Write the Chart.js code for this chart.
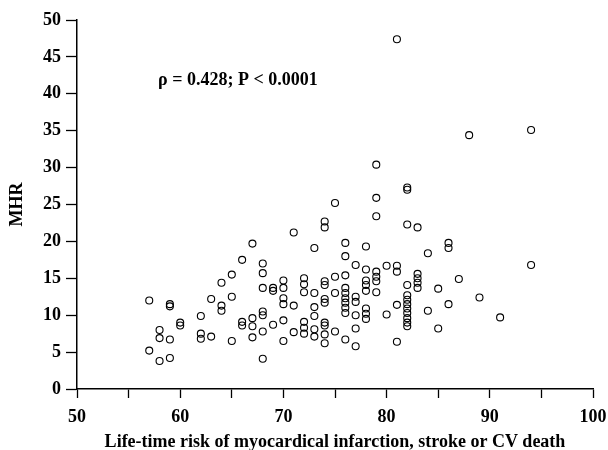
<!DOCTYPE html>
<html>
<head>
<meta charset="utf-8">
<script src="https://cdn.jsdelivr.net/npm/chart.js@4/dist/chart.umd.min.js"></script>
<style>
    html, body { margin: 0; padding: 0; background: #fff; }
    #wrap { width: 608px; height: 450px; }
</style>
</head>
<body>
<div id="wrap"><canvas id="mhrChart" width="608" height="450"></canvas></div>
<script>
// Data: one list of MHR values per life-time risk column
const riskValues = [57, 58, 59, 60, 62, 63, 64, 65, 66, 67, 68, 69, 70, 71, 72, 73, 74, 75, 76, 77, 78, 79, 80, 81, 82, 83, 84, 85, 86, 87, 88, 89, 91, 94];
const mhrByRisk = [
    [12.0, 5.2],
    [8.0, 6.9, 3.8],
    [11.5, 11.2, 6.7, 4.2],
    [9.0, 8.6],
    [9.9, 7.5, 6.8],
    [12.2, 7.1],
    [14.4, 11.3, 10.6],
    [15.5, 12.5, 6.5],
    [17.5, 9.1, 8.6],
    [19.7, 9.6, 8.5, 7.0],
    [17.0, 15.7, 13.7, 10.5, 10.0, 7.8, 4.1],
    [13.7, 13.3, 8.7],
    [14.7, 13.7, 12.3, 11.5, 9.3, 6.5],
    [21.2, 11.3, 7.7],
    [15.0, 14.2, 13.1, 9.1, 8.3, 7.5],
    [19.1, 13.0, 11.1, 9.9, 8.1, 7.1],
    [22.7, 21.9, 14.6, 14.1, 12.2, 11.7, 9.0, 8.6, 7.4, 6.2],
    [25.2, 15.2, 13.0, 7.8],
    [19.8, 18.0, 15.4, 13.7, 13.0, 12.3, 11.7, 11.0, 10.3, 6.7],
    [16.8, 12.5, 11.8, 10.0, 8.2, 5.8],
    [19.3, 16.2, 14.7, 14.1, 13.3, 10.9, 10.2, 9.5],
    [30.4, 25.9, 23.4, 15.9, 15.2, 14.6, 13.1],
    [16.7, 10.1],
    [47.4, 16.7, 15.9, 11.4, 6.4],
    [27.3, 27.0, 22.3, 14.1, 12.7, 12.1, 11.5, 10.9, 10.3, 9.6, 9.0, 8.5],
    [21.9, 15.6, 15.0, 14.4, 13.7],
    [18.4, 10.6],
    [13.6, 8.2],
    [19.8, 19.1, 11.5],
    [14.9],
    [34.4],
    [12.4],
    [9.7],
    [35.1, 16.8]
];
const xTicks = [50, 60, 70, 80, 90, 100];
const yTicks = [0, 5, 10, 15, 20, 25, 30, 35, 40, 45, 50];
const statsLabel = 'ρ = 0.428; P < 0.0001';

const points = [];
riskValues.forEach((risk, i) => {
    mhrByRisk[i].forEach(v => points.push({ x: risk, y: v }));
});

const serif = '"Liberation Serif", "Times New Roman", serif';

// statistic text in the upper left of the plot
const statsText = {
    id: 'statsText',
    afterDraw(chart) {
        const ctx = chart.ctx;
        ctx.save();
        ctx.font = 'bold 18px ' + serif;
        ctx.fillStyle = '#000';
        ctx.textBaseline = 'middle';
        ctx.fillText(statsLabel, 158, 80);
        ctx.restore();
    }
};

new Chart(document.getElementById('mhrChart').getContext('2d'), {
    type: 'scatter',
    data: {
        datasets: [{
            data: points,
            pointStyle: 'circle',
            pointRadius: 3.5,
            pointBorderWidth: 1.1,
            pointBorderColor: '#000',
            pointBackgroundColor: 'rgba(255,255,255,0)'
        }]
    },
    options: {
        responsive: false,
        animation: false,
        layout: { padding: { top: 20, right: 15, left: 5, bottom: 0 } },
        plugins: {
            legend: { display: false },
            tooltip: { enabled: false }
        },
        scales: {
            x: {
                type: 'linear',
                min: 50,
                max: 100,
                afterFit: s => { s.height = 61; s.paddingRight = 0; s.paddingLeft = 0; },
                ticks: {
                    stepSize: 5,
                    padding: 9,
                    maxRotation: 0,
                    color: '#000',
                    font: { family: serif, size: 18, weight: 'bold' },
                    callback: v => xTicks.includes(v) ? v : ''
                },
                grid: { drawOnChartArea: false, tickLength: 9, tickColor: '#000', tickWidth: 1.3 },
                border: { color: '#000', width: 1.5 },
                title: {
                    display: true,
                    text: 'Life-time risk of myocardical infarction, stroke or CV death',
                    color: '#000',
                    font: { family: serif, size: 18, weight: 'bold' },
                    padding: { top: 0, bottom: -3 }
                }
            },
            y: {
                type: 'linear',
                min: 0,
                max: 50,
                afterFit: s => { s.width = 72; },
                ticks: {
                    stepSize: 5,
                    padding: 5,
                    color: '#000',
                    font: { family: serif, size: 18, weight: 'bold' },
                    callback: v => yTicks.includes(v) ? v : ''
                },
                grid: { drawOnChartArea: false, tickLength: 11, tickColor: '#000', tickWidth: 1.3 },
                border: { color: '#000', width: 1.5 },
                title: {
                    display: true,
                    text: 'MHR',
                    color: '#000',
                    font: { family: serif, size: 18, weight: 'bold' },
                    padding: { top: 2, bottom: 0 }
                }
            }
        }
    },
    plugins: [statsText]
});
</script>
</body>
</html>
